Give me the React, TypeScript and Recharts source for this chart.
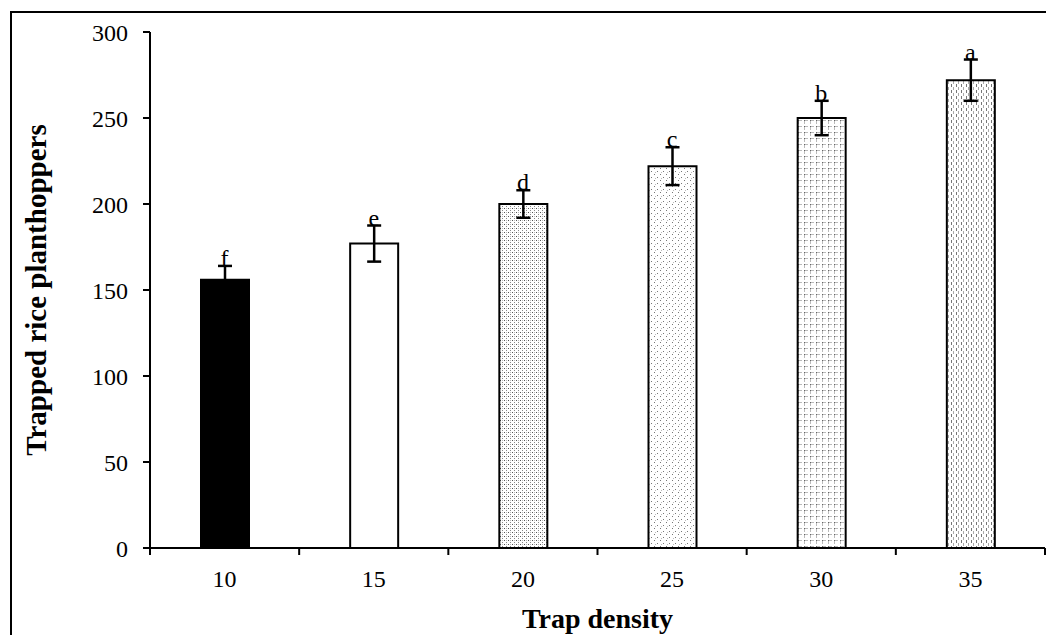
import React from "react";
import {
  ComposedChart,
  Bar,
  Line,
  Cell,
  XAxis,
  YAxis,
  ErrorBar,
  LabelList,
} from "recharts";

const densities = ["10", "15", "20", "25", "30", "35"];
const meanCatch = [156, 177, 200, 222, 250, 272];
const stdErr = [8, 10.5, 8, 11, 10, 12];
const letters = ["f", "e", "d", "c", "b", "a"];
const yTicks = [0, 50, 100, 150, 200, 250, 300];
const barFills = ["#000", "#fff", "url(#p20)", "url(#p25)", "url(#p30)", "url(#p35)"];

const data = densities.map((d, i) => ({
  density: d,
  mean: meanCatch[i],
  err: stdErr[i],
  top: meanCatch[i] + stdErr[i],
  letter: letters[i],
}));

const FONT = '"Liberation Serif", "Times New Roman", serif';

// category labels plus tick marks at the band edges, like Excel draws them
const DensityTick = (props: any) => {
  const { x, y, payload, index } = props;
  const half = payload.offset ?? 74.5;
  return (
    <g>
      <line x1={x - half} y1={y - 8} x2={x - half} y2={y - 1} stroke="#000" strokeWidth={2} />
      {index === densities.length - 1 && (
        <line x1={x + half} y1={y - 8} x2={x + half} y2={y - 1} stroke="#000" strokeWidth={2} />
      )}
      <text x={x} y={y + 31} textAnchor="middle" fontSize={24} fontFamily={FONT} fill="#000">
        {payload.value}
      </text>
    </g>
  );
};

function Patterns() {
  return (
    <svg width={0} height={0} style={{ position: "absolute" }}>
      <defs>
        <pattern id="p20" width={4} height={4} patternUnits="userSpaceOnUse">
          <rect width={4} height={4} fill="#fff" />
          <rect x={0} y={0} width={1} height={1} fill="#555" />
          <rect x={2} y={2} width={1} height={1} fill="#888" />
          <rect x={2} y={0} width={1} height={1} fill="#bbb" />
        </pattern>
        <pattern id="p25" width={6} height={6} patternUnits="userSpaceOnUse">
          <rect width={6} height={6} fill="#fff" />
          <rect x={0} y={0} width={1} height={1} fill="#777" />
          <rect x={3} y={3} width={1} height={1} fill="#777" />
          <rect x={1} y={4} width={1} height={1} fill="#bbb" />
        </pattern>
        <pattern id="p30" width={6} height={6} patternUnits="userSpaceOnUse">
          <rect width={6} height={6} fill="#fff" />
          <rect x={1} y={0} width={3} height={1} fill="#bbb" />
          <rect x={0} y={1} width={1} height={3} fill="#bbb" />
          <rect x={0} y={0} width={1} height={1} fill="#666" />
        </pattern>
        <pattern id="p35" width={5} height={6} patternUnits="userSpaceOnUse">
          <rect width={5} height={6} fill="#fff" />
          <rect x={1} y={0} width={1} height={3} fill="#777" />
          <rect x={3} y={3} width={1} height={3} fill="#aaa" />
        </pattern>
      </defs>
    </svg>
  );
}

export default function App() {
  return (
    <div
      style={{
        position: "absolute",
        left: 0,
        top: 0,
        width: 1046,
        height: 635,
        overflow: "hidden",
        background: "#fff",
      }}
    >
      <Patterns />
      <div
        style={{
          position: "absolute",
          left: 10,
          top: 11,
          width: 1100,
          height: 700,
          borderLeft: "2px solid #000",
          borderTop: "2px solid #000",
        }}
      />
      <div style={{ position: "absolute", left: 0, top: 0 }}>
        <ComposedChart
          width={1046}
          height={635}
          data={data}
          margin={{ top: 32, right: 1, left: 0, bottom: 0 }}
        >
          <XAxis
            dataKey="density"
            height={87}
            axisLine={{ stroke: "#000", strokeWidth: 2 }}
            tickLine={false}
            tick={<DensityTick />}
            label={{
              value: "Trap density",
              position: "insideBottom",
              offset: 7,
              style: { fontFamily: FONT, fontSize: 28, fontWeight: "bold", fill: "#000" },
            }}
          />
          <YAxis
            width={150}
            domain={[0, 300]}
            ticks={yTicks}
            interval={0}
            axisLine={{ stroke: "#000", strokeWidth: 2 }}
            tickLine={{ stroke: "#000", strokeWidth: 2 }}
            tickSize={7}
            tickMargin={15}
            tick={{ fontFamily: FONT, fontSize: 24, fill: "#000" }}
            label={{
              value: "Trapped rice planthoppers",
              angle: -90,
              position: "insideLeft",
              offset: 36,
              style: {
                fontFamily: FONT,
                fontSize: 29,
                fontWeight: "bold",
                fill: "#000",
                textAnchor: "middle",
              },
            }}
          />
          <Bar dataKey="mean" barSize={48} stroke="#000" strokeWidth={2} isAnimationActive={false}>
            {data.map((d, i) => (
              <Cell key={d.density} fill={barFills[i]} />
            ))}
            <ErrorBar dataKey="err" width={7} stroke="#000" strokeWidth={2.5} />
          </Bar>
          <Line
            dataKey="top"
            stroke="none"
            dot={false}
            activeDot={false}
            isAnimationActive={false}
          >
            <LabelList
              dataKey="letter"
              position="top"
              offset={0}
              style={{ fontFamily: FONT, fontSize: 24, fill: "#000" }}
            />
          </Line>
        </ComposedChart>
      </div>
    </div>
  );
}
